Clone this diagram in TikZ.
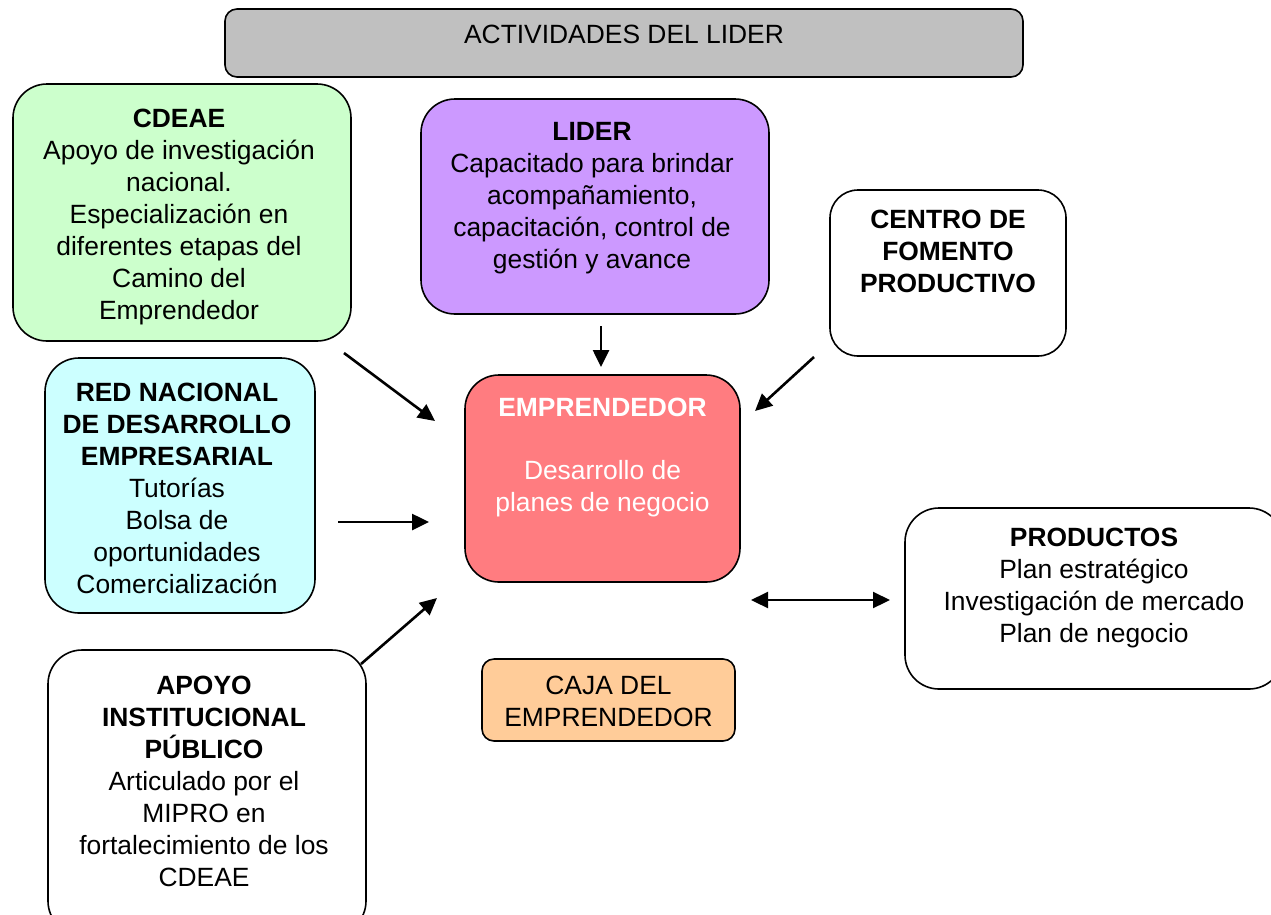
\documentclass[tikz,border=0pt]{standalone}
\usepackage{fontspec}
\setmainfont{Liberation Sans}
\usetikzlibrary{arrows.meta}
\definecolor{gris}{HTML}{C0C0C0}
\definecolor{verde}{HTML}{CCFFCC}
\definecolor{lila}{HTML}{CC99FF}
\definecolor{celeste}{HTML}{CCFFFF}
\definecolor{rosa}{HTML}{FF7C80}
\definecolor{durazno}{HTML}{FFCC99}
\begin{document}
\begin{tikzpicture}[x=1pt,y=-1pt,
  bloque/.style={draw,line width=1.6pt,rounded corners=34pt,inner sep=0pt},
  texto/.style={anchor=north,align=center,inner sep=0pt,font=\fontsize{26.4}{32}\selectfont},
  flecha/.style={draw,line width=2.6pt,-{Triangle[length=17pt,width=16pt]}}]
\useasboundingbox[fill=white] (0,0) rectangle (1271,914);

\node[bloque,fill=gris,rounded corners=12pt,minimum width=798,minimum height=68] (titulo) at (624,43) {};
\node[bloque,fill=verde,minimum width=338,minimum height=257] (cdeae) at (182,212.5) {};
\node[bloque,fill=lila,minimum width=348,minimum height=215] (lider) at (595,206.5) {};
\node[bloque,fill=white,rounded corners=28pt,minimum width=236,minimum height=166] (centro) at (948,273) {};
\node[bloque,fill=celeste,minimum width=270,minimum height=255] (red) at (180,485.5) {};
\node[bloque,fill=rosa,minimum width=275,minimum height=207] (empr) at (602.5,478.5) {};
\node[bloque,fill=white,minimum width=378,minimum height=181] (prod) at (1094,598.5) {};
\node[bloque,fill=white,minimum width=318,minimum height=285] (apoyo) at (207,792.5) {};
\node[bloque,fill=durazno,rounded corners=12pt,minimum width=253,minimum height=82] (caja) at (608.5,700) {};

\node[texto] (ttitulo) at (624,24.5) {ACTIVIDADES DEL LIDER};
\node[texto] (tcdeae) at (179,108.5) {\textbf{CDEAE}\\Apoyo de investigación\\nacional.\\Especialización en\\diferentes etapas del\\Camino del\\Emprendedor};
\node[texto] (tlider) at (592,122.5) {\textbf{LIDER}\\Capacitado para brindar\\acompañamiento,\\capacitación, control de\\gestión y avance};
\node[texto,font=\bfseries\fontsize{26.4}{32}\selectfont] (tcentro) at (948,209.5) {CENTRO DE\\FOMENTO\\PRODUCTIVO};
\node[texto] (tred) at (177,382.5) {\textbf{RED NACIONAL}\\\textbf{DE DESARROLLO}\\\textbf{EMPRESARIAL}\\Tutorías\\Bolsa de\\oportunidades\\Comercialización};
\node[texto,text=white] (tempr) at (602.5,397.5) {\textbf{EMPRENDEDOR}\\[31pt]Desarrollo de\\planes de negocio};
\node[texto] (tprod) at (1094,527.5) {\textbf{PRODUCTOS}\\Plan estratégico\\Investigación de mercado\\Plan de negocio};
\node[texto] (tapoyo) at (204,675.5) {\textbf{APOYO}\\\textbf{INSTITUCIONAL}\\\textbf{PÚBLICO}\\Articulado por el\\MIPRO en\\fortalecimiento de los\\CDEAE};
\node[texto] (tcaja) at (608.5,675.5) {CAJA DEL\\EMPRENDEDOR};

\coordinate (a1) at (344,353);
\coordinate (b1) at (435,421);
\coordinate (a2) at (601,326);
\coordinate (b2) at (601,367);
\coordinate (a3) at (814,357);
\coordinate (b3) at (755,411);
\coordinate (a4) at (338,522);
\coordinate (b4) at (429,522);
\coordinate (a5) at (361,664);
\coordinate (b5) at (437,598);
\coordinate (a6) at (751,600);
\coordinate (b6) at (890,600);

\path[flecha] (a1) -- (b1);
\path[flecha] (a2) -- (b2);
\path[flecha] (a3) -- (b3);
\path[flecha] (a4) -- (b4);
\path[flecha] (a5) -- (b5);
\path[flecha,line width=2.2pt,{Triangle[length=17pt,width=16pt]}-{Triangle[length=17pt,width=16pt]}] (a6) -- (b6);
\end{tikzpicture}
\end{document}
